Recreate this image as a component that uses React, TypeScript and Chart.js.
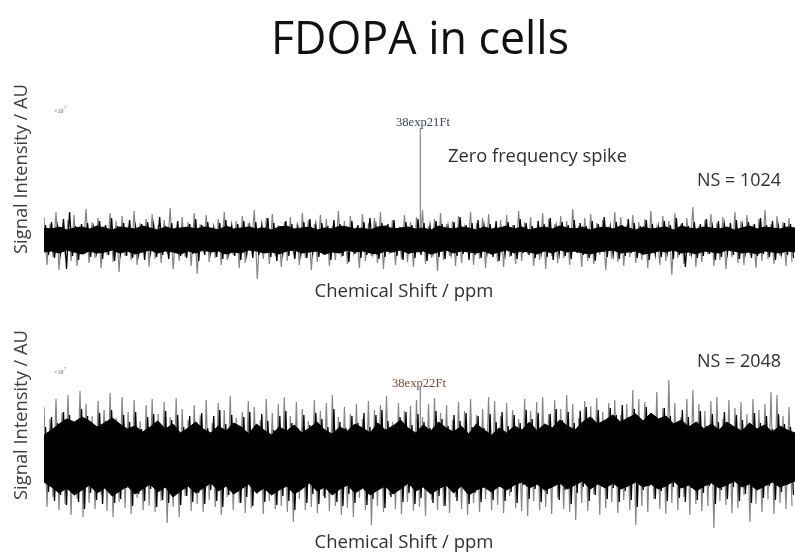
import React, { useEffect, useRef } from "react";
import { Chart, registerables } from "chart.js";

Chart.register(...registerables);

// ---------------- text ----------------
const TITLE = "FDOPA in cells";
const Y_TITLE = "Signal Intensity / AU";
const X_TITLE = "Chemical Shift / ppm";
const SPIKE_NOTE = "Zero frequency spike";
const NS_LABELS = ["NS = 1024", "NS = 2048"];
const FILE_LABELS = ["38exp21Ft", "38exp22Ft"];
const EXP_LABEL = "×10";
const EXP_POWER = "7";

// ---------------- data (intensity relative to each trace baseline) ----------------
// Panel 1 (NS = 1024) — outer excursions (grey), alternating up / down
const P1_GREY_HI = [
  22, 15, 27, 12, 19, 24, 10, 30, 17, 21, 13, 26, 18, 23, 11, 28, 16, 20, 25, 14,
  19, 31, 12, 22, 17, 26, 15, 24, 10, 20, 27, 13, 18, 23, 16, 29, 12, 21, 25, 14,
  17, 22, 11, 26, 19, 15, 24, 20, 13, 28, 18, 23, 12, 25, 16, 21, 27, 14, 19, 10,
  24, 17, 22, 29, 13, 20, 26, 15, 18, 23, 11, 27, 16, 21, 25, 12, 19, 24, 14, 28,
  17, 22, 10, 26, 20, 15, 23, 18, 30, 13, 21, 25, 16, 19, 12, 27, 22, 14, 24, 17,
  20, 28, 11, 23, 18, 26, 15, 21, 32, 13, 19, 25, 16, 22, 12, 27, 18, 24, 14, 20,
  29, 15, 23, 17, 21,
];
const P1_GREY_LO = [
  -26, -18, -31, -14, -22, -27, -12, -24, -19, -29, -16, -23, -33, -17, -21, -26, -13, -28, -20, -24,
  -15, -30, -22, -18, -27, -35, -14, -23, -19, -26, -21, -16, -29, -24, -12, -40, -20, -25, -17, -28,
  -22, -14, -26, -19, -31, -23, -16, -27, -21, -18, -25, -13, -29, -22, -17, -24, -30, -15, -26, -20,
  -23, -28, -14, -25, -19, -32, -21, -17, -27, -24, -13, -26, -20, -29, -16, -23, -28, -18, -25, -22,
  -15, -27, -21, -30, -17, -24, -19, -26, -13, -28, -22, -25, -16, -31, -20, -23, -27, -18, -24, -21,
  -29, -14, -26, -22, -36, -19, -25, -17, -28, -23, -15, -27, -21, -30, -18, -24, -26, -16, -29, -22,
  -20, -25, -17, -27, -23,
];
// Panel 1 — inner excursions (black)
const P1_BLACK_HI = [
  14, 17, 12, 20, 27, 13, 15, 16, 11, 18, 14, 21, 13, 16, 19, 12, 15, 17, 14, 22,
  13, 16, 18, 12, 15, 20, 14, 17, 11, 16, 19, 13, 15, 18, 12, 17, 14, 21, 16, 13,
  18, 15, 12, 17, 20, 14, 16, 13, 19, 15, 12, 18, 14, 17, 21, 13, 16, 15, 19, 12,
  17, 14, 20, 16, 13, 18, 15, 12, 17, 22, 14, 16, 19, 13, 15, 18, 12, 17, 14, 20,
  16, 13, 18, 15, 21, 12, 17, 14, 19, 16, 13, 18, 15, 22, 12, 17, 14, 20, 16, 13,
  19, 15, 12, 18, 14, 21, 16, 13, 17, 15, 20, 12, 18, 14, 16, 19, 13, 17, 15, 21,
  14, 18, 12, 16, 15,
];
const P1_BLACK_LO = [
  -16, -19, -14, -30, -17, -21, -15, -18, -13, -20, -16, -22, -14, -17, -19, -15, -21, -13, -18, -16,
  -20, -14, -17, -19, -15, -22, -16, -13, -18, -20, -14, -17, -21, -15, -19, -16, -13, -18, -22, -14,
  -17, -20, -15, -19, -13, -18, -16, -21, -14, -17, -23, -15, -19, -16, -13, -20, -18, -14, -17, -21,
  -15, -19, -16, -22, -13, -18, -20, -14, -17, -15, -21, -16, -19, -13, -18, -22, -15, -17, -20, -14,
  -16, -19, -13, -18, -21, -15, -17, -20, -14, -16, -19, -22, -13, -18, -15, -20, -17, -14, -19, -16,
  -21, -15, -18, -13, -20, -16, -28, -14, -19, -17, -15, -21, -18, -14, -16, -20, -13, -19, -17, -15,
  -18, -21, -14, -16, -19,
];
// Panel 1 — dense core envelope
const P1_CORE_HI = [
  11, 10, 12, 9, 11, 12, 10, 13, 11, 9, 12, 11, 10, 13, 11, 9, 12, 10, 11, 12,
  10, 12, 11, 9, 13, 10, 11, 12, 10, 11, 9, 12, 13, 10, 11, 12, 9, 11, 10, 13,
  12, 10, 11, 9, 12, 13, 10, 11, 12, 10, 11, 9, 13, 11, 10, 12, 11, 9, 12, 10,
  11, 13, 10, 12, 9, 11, 12, 10, 13, 11, 10, 12, 9, 11, 12, 10, 13, 11, 9, 12,
  10, 11, 12, 9, 13, 11, 10, 12, 11, 10, 12, 9, 11, 13, 10, 12, 11, 10, 12, 11,
];
const P1_CORE_LO = [
  -13, -12, -14, -11, -13, -15, -12, -14, -13, -11, -14, -12, -15, -13, -11, -14, -12, -13, -15, -12,
  -14, -11, -13, -12, -15, -13, -14, -11, -12, -14, -13, -15, -12, -11, -14, -13, -12, -15, -13, -14,
  -11, -13, -12, -14, -15, -12, -13, -11, -14, -13, -12, -15, -13, -11, -14, -12, -13, -14, -12, -15,
  -13, -11, -14, -12, -13, -15, -12, -14, -11, -13, -12, -14, -15, -13, -12, -11, -14, -13, -12, -15,
  -14, -12, -13, -11, -14, -13, -15, -12, -13, -14, -11, -12, -14, -13, -15, -12, -13, -14, -12, -13,
];

// Panel 2 (NS = 2048)
const P2_GREY_HI = [
  50, 38, 58, 44, 62, 35, 66, 53, 41, 56, 47, 64, 39, 60, 45, 57, 36, 52, 58, 43, 55, 40, 59, 48, 37,
  52, 42, 57, 34, 54, 47, 61, 39, 45, 56, 50, 37, 58, 44, 53, 60, 41, 55, 48, 36, 57, 46, 54, 62, 40,
  50, 43, 53, 38, 56, 47, 52, 61, 35, 54, 46, 51, 57, 40, 53, 59, 44, 52, 37, 55, 46, 58, 42, 48, 60,
  56, 41, 54, 47, 38, 58, 46, 55, 60, 43, 57, 48, 62, 53, 39, 56, 51, 59, 45, 54, 57, 42, 53, 67, 58,
  55, 44, 65, 49, 77, 54, 40, 58, 67, 53, 46, 56, 60, 38, 57, 49, 55, 43, 58, 47, 53, 65, 62, 41, 50,
];
const P2_GREY_LO = [
  -50, -40, -53, -47, -58, -42, -60, -46, -52, -38, -54, -60, -45, -51, -57, -41, -53, -49, -55, -44, -66, -50, -60, -39, -54,
  -47, -55, -43, -50, -58, -40, -53, -46, -56, -51, -37, -57, -44, -52, -49, -55, -65, -42, -53, -50, -56, -39, -54, -49, -58,
  -51, -60, -41, -53, -68, -49, -55, -38, -52, -57, -45, -54, -50, -59, -43, -53, -49, -56, -40, -52, -58, -46, -55, -42, -53,
  -48, -56, -39, -51, -54, -59, -44, -53, -50, -57, -41, -52, -55, -63, -46, -54, -37, -58, -51, -45, -56, -43, -53, -68, -49,
  -55, -42, -52, -57, -46, -53, -40, -58, -47, -54, -49, -71, -44, -48, -56, -51, -38, -65, -47, -55, -42, -57, -46, -52, -49,
];
const P2_BLACK_HI = [
  30, 40, 34, 45, 42, 33, 48, 41, 31, 44, 36, 47, 29, 42, 35, 45, 28, 40, 43, 32, 46, 37, 42, 30, 41,
  34, 44, 29, 41, 47, 33, 42, 28, 40, 45, 31, 43, 36, 27, 41, 46, 34, 29, 42, 32, 44, 38, 30, 48, 35,
  29, 41, 34, 44, 30, 42, 47, 36, 28, 40, 45, 32, 43, 35, 29, 46, 38, 31, 42, 36, 44, 30, 41, 29, 43,
  35, 45, 31, 42, 34, 47, 38, 44, 32, 43, 48, 37, 45, 34, 46, 50, 39, 47, 36, 49, 42, 52, 40, 48, 37,
  50, 43, 36, 49, 41, 34, 47, 40, 33, 46, 31, 43, 35, 45, 30, 42, 37, 29, 44, 34, 41, 28, 43, 33, 30,
];
const P2_BLACK_LO = [
  -35, -44, -38, -48, -31, -45, -52, -36, -43, -47, -33, -46, -42, -31, -49, -37, -44, -32, -50, -43, -46, -34, -48, -39, -45,
  -36, -47, -33, -44, -50, -38, -31, -46, -40, -49, -34, -45, -30, -48, -39, -44, -53, -33, -46, -37, -47, -41, -31, -45, -49,
  -37, -46, -33, -48, -42, -32, -51, -40, -30, -45, -36, -47, -41, -31, -46, -39, -49, -33, -44, -29, -47, -36, -45, -32, -43,
  -30, -44, -35, -46, -28, -42, -32, -45, -37, -29, -43, -33, -47, -36, -30, -44, -38, -28, -42, -31, -45, -34, -43, -50, -33,
  -29, -42, -34, -44, -30, -41, -45, -31, -43, -36, -29, -47, -33, -42, -30, -44, -37, -46, -31, -41, -29, -43, -35, -28, -38,
];
const P2_CORE_HI = [
  22, 27, 33, 38, 35, 40, 36, 30, 34, 39, 33, 28, 31, 25, 30, 36, 28, 33, 24, 29,
  35, 28, 24, 31, 26, 34, 30, 23, 33, 27, 22, 30, 26, 32, 24, 29, 35, 27, 23, 30,
  26, 33, 29, 24, 34, 27, 31, 37, 29, 24, 32, 26, 35, 29, 25, 31, 23, 33, 27, 22,
  29, 24, 31, 27, 35, 26, 33, 29, 37, 31, 27, 35, 40, 33, 37, 42, 35, 39, 43, 36,
  44, 38, 41, 33, 37, 30, 35, 28, 33, 27, 35, 30, 26, 34, 28, 32, 25, 31, 27, 24,
];
const P2_CORE_LO = [
  -25, -30, -36, -31, -38, -33, -28, -36, -31, -39, -34, -29, -37, -32, -27, -35, -30, -40, -34, -29,
  -36, -31, -26, -34, -29, -37, -32, -27, -36, -31, -38, -33, -29, -37, -32, -26, -34, -30, -38, -32,
  -28, -36, -31, -38, -33, -29, -37, -32, -26, -34, -30, -37, -32, -28, -36, -29, -38, -33, -30, -35,
  -29, -33, -28, -25, -31, -27, -33, -30, -26, -32, -28, -24, -32, -27, -31, -26, -32, -29, -25, -30,
  -27, -32, -29, -24, -31, -28, -34, -29, -26, -31, -28, -24, -30, -27, -33, -29, -25, -30, -27, -24,
];

// zero-frequency spike (position on the x index axis, height)
const SPIKE_POS = [501, 501];
const SPIKE_HEIGHT = [111, 71];

// ---------------- helpers ----------------
type Pt = { x: number; y: number };
function zigzag(hi: number[], lo: number[], offset: number): Pt[] {
  const pts: Pt[] = [];
  for (let i = 0; i < hi.length; i++) {
    pts.push({ x: i * 8 + offset, y: hi[i] });
    pts.push({ x: i * 8 + offset + 4, y: lo[i] });
  }
  return pts;
}
function envelope(vals: number[]): Pt[] {
  return vals.map((v, i) => ({ x: (i * 1000) / (vals.length - 1), y: v }));
}

const SANS = "'Open Sans', 'DejaVu Sans', sans-serif";
const SERIF = "'Liberation Serif', 'DejaVu Serif', serif";

function drawFit(
  ctx: CanvasRenderingContext2D,
  text: string,
  family: string,
  width: number,
  x: number,
  y: number,
  color: string,
  align: CanvasTextAlign = "left",
  baseline: CanvasTextBaseline = "middle",
  rotate = false
) {
  ctx.save();
  ctx.font = `100px ${family}`;
  const w = ctx.measureText(text).width;
  ctx.font = `${(100 * width) / w}px ${family}`;
  ctx.fillStyle = color;
  ctx.textAlign = align;
  ctx.textBaseline = baseline;
  if (rotate) {
    ctx.translate(x, y);
    ctx.rotate(-Math.PI / 2);
    ctx.fillText(text, 0, 0);
  } else {
    ctx.fillText(text, x, y);
  }
  ctx.restore();
}

const textPlugin = {
  id: "slideText",
  afterDraw(chart: Chart) {
    const ctx = chart.ctx;
    drawFit(ctx, TITLE, SANS, 298, 420, 54, "#111111", "center", "alphabetic");
    const yCenters = [169, 415];
    const xTitleY = [292, 543];
    const nsY = [181, 362];
    const fileX = [396, 392];
    const fileY = [123, 384];
    const fileCol = ["#3b4557", "#6a4d3c"];
    const expY = [111, 372];
    for (let p = 0; p < 2; p++) {
      drawFit(ctx, Y_TITLE, SANS, 170, 22, yCenters[p], "#404040", "center", "middle", true);
      drawFit(ctx, X_TITLE, SANS, 179, 404, xTitleY[p], "#303030", "center", "middle");
      drawFit(ctx, NS_LABELS[p], SANS, 84, 697, nsY[p], "#303030", "left", "middle");
      drawFit(ctx, FILE_LABELS[p], SERIF, 54, fileX[p], fileY[p], fileCol[p], "left", "middle");
      ctx.save();
      ctx.fillStyle = "#555a66";
      ctx.font = `6px ${SERIF}`;
      ctx.textBaseline = "middle";
      ctx.fillText(EXP_LABEL, 54, expY[p]);
      const w = ctx.measureText(EXP_LABEL).width;
      ctx.font = `4px ${SERIF}`;
      ctx.fillText(EXP_POWER, 54 + w + 0.5, expY[p] - 3);
      ctx.restore();
    }
    drawFit(ctx, SPIKE_NOTE, SANS, 179, 448, 157, "#303030", "left", "middle");
  },
};

export default function App() {
  const ref = useRef<HTMLCanvasElement | null>(null);
  useEffect(() => {
    if (!ref.current) return;
    const common = { pointRadius: 0, tension: 0 };
    const chart = new Chart(ref.current, {
      type: "line",
      data: {
        datasets: [
          // inner excursions (black), drawn on top
          { ...common, data: zigzag(P1_BLACK_HI, P1_BLACK_LO, 2), yAxisID: "y1", borderColor: "#000", borderWidth: 1.3, fill: false },
          { ...common, data: zigzag(P2_BLACK_HI, P2_BLACK_LO, 2), yAxisID: "y2", borderColor: "#000", borderWidth: 1.3, fill: false },
          // dense core
          { ...common, data: envelope(P1_CORE_HI), yAxisID: "y1", borderColor: "#000", backgroundColor: "#000", borderWidth: 1, fill: "+1" },
          { ...common, data: envelope(P1_CORE_LO), yAxisID: "y1", borderColor: "#000", borderWidth: 1, fill: false },
          { ...common, data: envelope(P2_CORE_HI), yAxisID: "y2", borderColor: "#000", backgroundColor: "#000", borderWidth: 1, fill: "+1" },
          { ...common, data: envelope(P2_CORE_LO), yAxisID: "y2", borderColor: "#000", borderWidth: 1, fill: false },
          // outer excursions (grey)
          { ...common, data: zigzag(P1_GREY_HI, P1_GREY_LO, 0), yAxisID: "y1", borderColor: "#858585", borderWidth: 1.2, fill: false },
          { ...common, data: zigzag(P2_GREY_HI, P2_GREY_LO, 0), yAxisID: "y2", borderColor: "#858585", borderWidth: 1.2, fill: false },
          // spikes
          { ...common, data: [{ x: SPIKE_POS[0], y: 0 }, { x: SPIKE_POS[0], y: SPIKE_HEIGHT[0] }], yAxisID: "y1", borderColor: "#6e6e6e", borderWidth: 1, fill: false },
          { ...common, data: [{ x: SPIKE_POS[1], y: 0 }, { x: SPIKE_POS[1], y: SPIKE_HEIGHT[1] }], yAxisID: "y2", borderColor: "#6e6e6e", borderWidth: 1, fill: false },
        ],
      },
      options: {
        animation: false,
        responsive: false,
        events: [],
        layout: { padding: { left: 44, right: 0, top: 0, bottom: 0 } },
        plugins: { legend: { display: false }, tooltip: { enabled: false }, title: { display: false } },
        scales: {
          x: { type: "linear", min: 0, max: 1000, display: false },
          y1: { type: "linear", min: -314, max: 239, display: false },
          y2: { type: "linear", min: -96, max: 457, display: false },
        },
      },
      plugins: [textPlugin],
    });
    return () => chart.destroy();
  }, []);
  return (
    <div style={{ position: "absolute", left: 0, top: 0, width: 795, height: 553, background: "#fff" }}>
      <canvas ref={ref} width={795} height={553} style={{ display: "block", width: 795, height: 553 }} />
    </div>
  );
}
